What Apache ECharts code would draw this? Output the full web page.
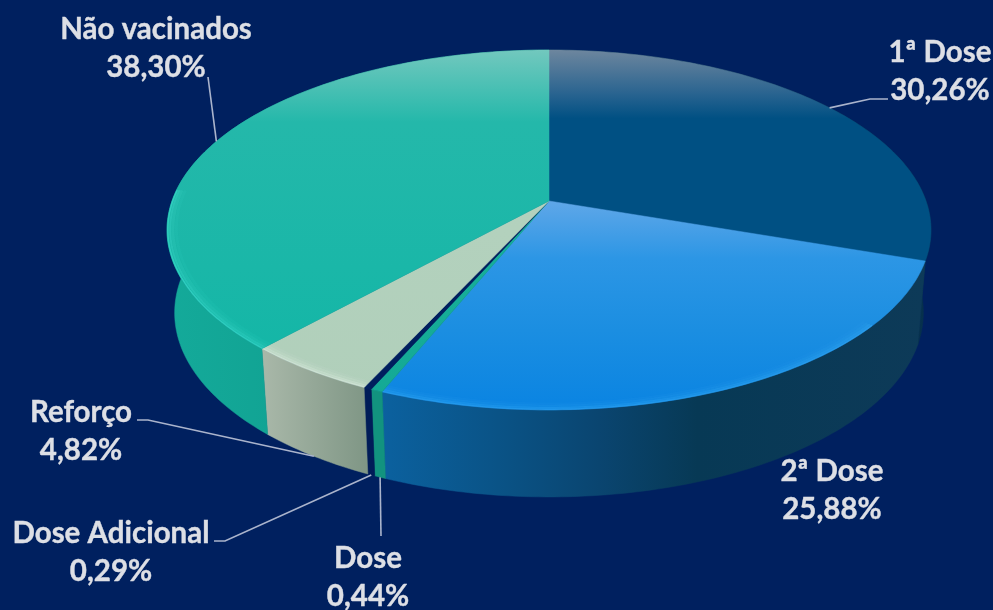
<!DOCTYPE html>
<html>
<head>
<meta charset="utf-8">
<script src="https://cdn.jsdelivr.net/npm/echarts@6/dist/echarts.min.js"></script>
<style>
  html, body { margin: 0; padding: 0; background: #00205f; }
  #main { width: 993px; height: 610px; }
</style>
</head>
<body>
<div id="main"></div>
<script>
// clockwise from 12 o'clock
var categories = ['1ª Dose', '2ª Dose', 'Dose', 'Dose Adicional', 'Reforço', 'Não vacinados'];
var values = [30.26, 25.88, 0.44, 0.29, 4.82, 38.30];

// top face colours: [offset, colour], offsets over y 50..410
var topStops = [
  [[0, '#6d869e'], [0.12, '#2a6490'], [0.19, '#005083'], [1, '#005083']],
  [[0, '#6aaeea'], [0.42, '#5fa7e8'], [0.58, '#2c96e5'], [0.78, '#1b8ee1'], [1, '#0a84e2']],
  [[0, '#1ab5a0'], [1, '#14a994']],
  [[0, '#001f5e'], [1, '#001f5e']],
  [[0, '#b6d3c0'], [1, '#b0cfba']],
  [[0, '#72c8be'], [0.2, '#24b8aa'], [1, '#10b6a6']]
];
// side wall colours, left to right across the slice
var wallStops = [
  [[0, '#0a3f5f'], [1, '#06304c']],
  [[0, '#0b619f'], [0.2, '#0a5488'], [0.4, '#0a4570'], [0.58, '#073955'], [1, '#0d3a58']],
  [[0, '#12937f'], [1, '#12937f']],
  [[0, '#001c58'], [1, '#001c58']],
  [[0, '#a9b8a9'], [1, '#7f9685']],
  [[0, '#14aa9a'], [1, '#0b9384']]
];
var rimColors = [null, '#3cb0f8', null, null, '#eef6ee', '#4ae8dc'];

// label centre, leader elbows, and whether the leader leaves the top or bottom rim
var labelLayout = [
  { x: 940, y: 71, leader: [[870, 99], [888, 99]], from: 'top' },
  { x: 832, y: 490, leader: null },
  { x: 368, y: 577, leader: [[381, 536]], from: 'bottom' },
  { x: 111, y: 552, leader: [[225, 541], [214, 541]], from: 'bottom' },
  { x: 81, y: 431, leader: [[148, 420], [137, 420]], from: 'bottom' },
  { x: 156, y: 48, leader: [[208, 77]], from: 'top' }
];

// perspective disc fitted to the picture
var cx = 549, cy = 201, B = 377, A = 175.3, C = 0.161;

var total = values.reduce(function (a, b) { return a + b; }, 0);
function startFrac(i) {
  var s = 0;
  for (var k = 0; k < i; k++) s += values[k];
  return s / total;
}
function topPoint(frac, r) {
  var t = frac * Math.PI * 2;
  var u = Math.sin(t) * r, v = Math.cos(t) * r;
  var d = 1 + C * v;
  return [cx + B * u / d, cy - A * v / d];
}
function bottomPoint(frac) {
  var t = frac * Math.PI * 2;
  var p = topPoint(frac, 1);
  return [cx + (p[0] - cx) * 0.98, p[1] + 82 - 5 * Math.cos(t)];
}
function arc(a, b, fn) {
  var n = Math.max(2, Math.ceil((b - a) * 360));
  var pts = [];
  for (var i = 0; i <= n; i++) pts.push(fn(a + (b - a) * i / n));
  return pts;
}
function gradY(stops) {
  return new echarts.graphic.LinearGradient(0, 50, 0, 410, stops.map(function (s) {
    return { offset: s[0], color: s[1] };
  }), true);
}

function renderWall(params, api) {
  var i = params.dataIndex;
  var a = startFrac(i), b = a + api.value(0) / total;
  var upper = arc(a, b, function (f) { return topPoint(f, 1); });
  var lower = arc(a, b, bottomPoint).reverse();
  var pts = upper.concat(lower);
  var xs = pts.map(function (p) { return p[0]; });
  var fill = new echarts.graphic.LinearGradient(Math.min.apply(null, xs), 0, Math.max.apply(null, xs), 0,
    wallStops[i].map(function (s) { return { offset: s[0], color: s[1] }; }), true);
  return { type: 'polygon', shape: { points: pts }, style: { fill: fill, stroke: fill, lineWidth: 0.5 } };
}

function renderTop(params, api) {
  var i = params.dataIndex;
  var a = startFrac(i), b = a + api.value(0) / total;
  var edge = arc(a, b, function (f) { return topPoint(f, 1); });
  var fill = gradY(topStops[i]);
  var children = [{
    type: 'polygon',
    shape: { points: [[cx, cy]].concat(edge) },
    style: { fill: fill, stroke: fill, lineWidth: 0.5 }
  }];
  if (rimColors[i]) {
    // soft highlight along the front rim only
    [[0.998, 0.45, 1.5], [0.992, 0.25, 2], [0.985, 0.13, 3], [0.976, 0.06, 3]].forEach(function (ring) {
      var from = Math.max(a, 0.36), to = Math.min(b, 0.76);
      if (to <= from) return;
      var pts = arc(from, to, function (f) { return topPoint(f, ring[0]); });
      children.push({
        type: 'polyline',
        shape: { points: pts },
        style: { stroke: rimColors[i], lineWidth: ring[2], opacity: ring[1], fill: null }
      });
    });
  }
  return { type: 'group', children: children };
}

function renderLabel(params, api) {
  var i = params.dataIndex;
  var lay = labelLayout[i];
  var children = [];
  if (lay.leader) {
    var mid = startFrac(i) + api.value(0) / total / 2;
    var start = lay.from === 'top' ? topPoint(mid, 1) : bottomPoint(mid);
    children.push({
      type: 'polyline',
      shape: { points: [start].concat(lay.leader) },
      style: { stroke: '#aab4cc', lineWidth: 1.6, fill: null }
    });
  }
  children.push({
    type: 'text',
    style: {
      text: categories[i] + '\n' + api.value(0).toFixed(2).replace('.', ',') + '%',
      x: lay.x, y: lay.y,
      align: 'center', verticalAlign: 'middle',
      font: 'bold 29.5px Lato',
      lineHeight: 38,
      fill: '#dddfe5',
      stroke: '#dddfe5',
      lineWidth: 0.4
    }
  });
  return { type: 'group', children: children };
}

var myChart = echarts.init(document.getElementById('main'));
myChart.setOption({
  backgroundColor: '#00205f',
  animation: false,
  series: [
    { type: 'custom', coordinateSystem: 'none', data: values, renderItem: renderWall, silent: true, z: 1 },
    { type: 'custom', coordinateSystem: 'none', data: values, renderItem: renderTop, silent: true, z: 2 },
    { type: 'custom', coordinateSystem: 'none', data: values, renderItem: renderLabel, silent: true, z: 3 }
  ]
});
</script>
</body>
</html>
